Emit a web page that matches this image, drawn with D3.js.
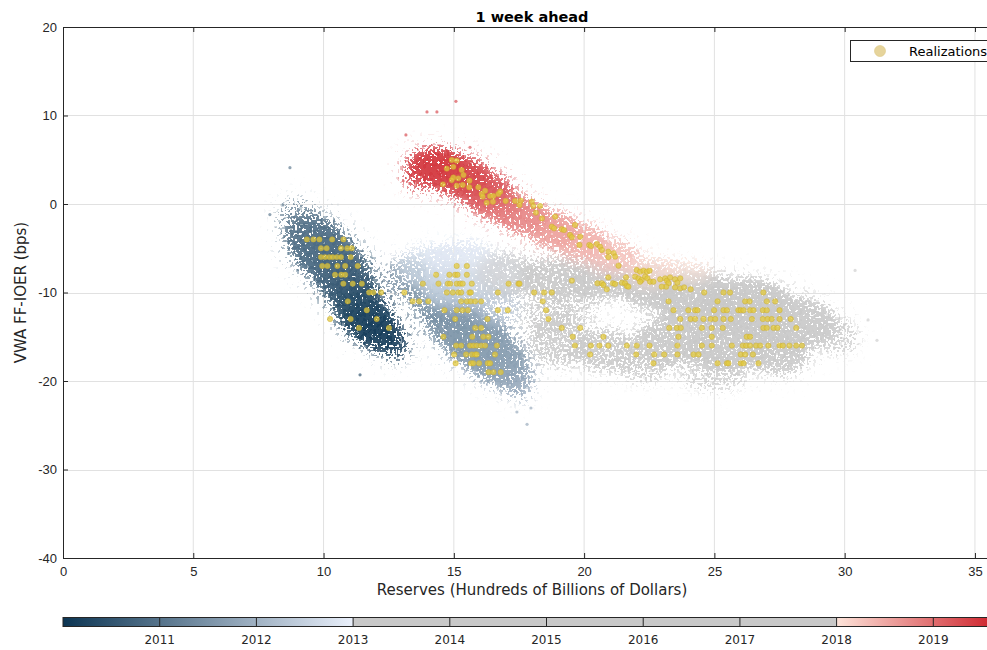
<!DOCTYPE html>
<html>
<head>
<meta charset="utf-8">
<script src="https://cdn.jsdelivr.net/npm/d3@7"></script>
<style>
body { margin: 0; background: #fff; }
svg { font-family: "DejaVu Sans", sans-serif; }
</style>
</head>
<body>
<div id="chart"></div>
<script>
//size
var chart_width = 987;
var chart_height = 650;

//ticks
var xTicks = [0, 5, 10, 15, 20, 25, 30, 35];
var yTicks = [-40, -30, -20, -10, 0, 10, 20];
var cbTicks = [2011, 2012, 2013, 2014, 2015, 2016, 2017, 2018, 2019];

//colormap (date -> colour)
var cmapYears = [2010, 2013, 2013, 2018, 2018, 2019.7];
var cmapColors = ['#0c3553', '#eaf0fb', '#c8c8c8', '#c8c8c8', '#fde4da', '#cc1a24'];

// simulated draws, read as density regions: [date, reserves, bps, spread reserves, spread bps, weight]
var cloud2010 = [
    [2010.90, 9.0, -1.5, 0.8, 2.2, 0.4],
    [2010.88, 9.6, -3.8, 1.1, 2.6, 0.75],
    [2010.82, 10.1, -5.8, 1.2, 2.8, 0.85],
    [2010.72, 10.7, -7.8, 1.1, 2.8, 0.85],
    [2010.55, 11.1, -9.8, 1.0, 2.6, 0.8],
    [2010.30, 11.4, -11.8, 1.0, 2.5, 0.8],
    [2010.15, 11.8, -13.5, 1.0, 2.3, 0.8],
    [2010.05, 12.3, -15.0, 0.9, 2.0, 0.65],
    [2010.00, 12.8, -16.5, 0.6, 1.6, 0.35]
];
var cloud2011 = [
    [2011.15, 13.2, -8.5, 0.9, 2.5, 0.45],
    [2011.30, 14.3, -11.0, 1.0, 2.6, 0.55],
    [2011.45, 15.1, -13.5, 1.2, 2.8, 0.75],
    [2011.55, 15.9, -15.5, 1.3, 2.8, 0.85],
    [2011.65, 16.6, -17.5, 1.2, 2.5, 0.85],
    [2011.75, 17.2, -19.5, 0.9, 2.0, 0.6],
    [2011.80, 17.6, -21.2, 0.5, 1.5, 0.3]
];
var cloud2012 = [
    [2012.80, 14.0, -7.0, 1.2, 2.5, 0.55],
    [2012.85, 15.3, -6.5, 1.3, 2.5, 0.7],
    [2012.90, 16.5, -8.0, 1.2, 2.5, 0.6],
    [2012.60, 15.0, -9.5, 1.3, 2.5, 0.65],
    [2012.30, 16.6, -11.5, 1.0, 2.3, 0.45]
];
var cloudGray = [
    [2015, 17.0, -8.0, 1.2, 2.5, 0.55],
    [2015, 18.8, -8.5, 1.3, 2.5, 0.7],
    [2015, 20.6, -8.8, 1.2, 2.2, 0.75],
    [2015, 22.5, -9.5, 1.2, 2.4, 0.8],
    [2015, 18.5, -12.5, 1.0, 2.2, 0.45],
    [2015, 19.8, -12.0, 0.8, 1.5, 0.4],
    [2015, 19.0, -15.5, 1.2, 3.0, 0.6],
    [2015, 20.8, -16.5, 1.2, 2.6, 0.65],
    [2015, 24.2, -10.5, 1.6, 3.0, 0.85],
    [2015, 26.2, -11.5, 1.8, 3.2, 0.9],
    [2015, 28.2, -13.5, 1.5, 3.0, 0.8],
    [2015, 29.8, -15.0, 0.8, 2.2, 0.45],
    [2015, 23.3, -15.5, 1.4, 2.8, 0.8],
    [2015, 25.5, -16.0, 1.6, 2.8, 0.85],
    [2015, 27.5, -17.0, 1.2, 2.5, 0.7],
    [2015, 25.0, -19.5, 1.3, 1.8, 0.45],
    [2015, 22.3, -18.5, 1.0, 1.8, 0.5]
];
var cloud2018 = [
    [2018.00, 24.0, -7.6, 0.9, 1.4, 0.5],
    [2018.10, 22.6, -7.6, 1.0, 1.7, 0.6],
    [2018.30, 21.1, -5.9, 1.0, 2.0, 0.7],
    [2018.45, 19.9, -4.3, 1.0, 2.1, 0.75],
    [2018.60, 18.8, -2.9, 1.0, 2.1, 0.8],
    [2018.80, 17.6, -1.3, 1.0, 2.1, 0.8],
    [2018.95, 16.6, 0.1, 1.0, 2.0, 0.8]
];
var cloud2019 = [
    [2019.20, 16.1, 1.6, 1.1, 2.0, 0.85],
    [2019.35, 15.2, 3.2, 1.2, 2.2, 0.9],
    [2019.50, 14.3, 4.5, 1.1, 2.0, 0.85],
    [2019.45, 13.7, 3.0, 0.7, 1.8, 0.5]
];
// isolated draws far from the clouds: [date, reserves, bps]
var strays = [
    [2019.5, 13.97, 10.4], [2019.5, 14.35, 10.4], [2019.5, 15.08, 11.6], [2019.5, 13.16, 7.8], [2019.4, 15.62, 6.4],
    [2010.8, 8.71, 4.1], [2010.8, 7.94, -1.2], [2010.8, 8.44, -0.1], [2010.1, 11.40, -19.3],
    [2011.7, 17.81, -24.9], [2011.7, 17.42, -23.5], [2011.7, 17.96, -23.05],
    [2015, 30.40, -7.5], [2015, 31.24, -15.4], [2015, 29.82, -14.2], [2015, 30.9, -13.1]
];

// realizations, 2010-2017 (whole bps): [bps, reserves...]
var realRows = [
    [-4, [9.36, 9.61, 9.84, 10.33, 10.76]],
    [-5, [9.90, 10.12, 10.67, 10.91, 11.08]],
    [-6, [9.90, 10.06, 10.22, 10.35, 10.51, 10.67, 11.04]],
    [-7, [9.95, 10.15, 10.53, 10.83, 11.31, 15.11, 15.50]],
    [-8, [10.44, 10.68, 10.83, 14.32, 14.83, 15.05, 15.14, 15.50]],
    [-9, [10.76, 11.12, 11.47, 13.81, 14.41, 14.77, 14.86, 15.11, 15.24, 15.34, 15.69, 17.10, 17.48, 17.52]],
    [-10, [11.75, 11.91, 12.21, 13.10, 14.73, 14.96, 15.17, 15.28, 15.60, 15.65, 16.69, 18.08, 18.46, 18.76, 24.61, 25.35, 25.60, 26.88]],
    [-11, [10.93, 13.42, 13.67, 14.02, 15.28, 15.50, 15.65, 15.82, 16.05, 18.41, 23.24, 25.12, 26.18, 26.35, 27.01, 27.33]],
    [-12, [11.66, 14.64, 15.11, 15.33, 15.54, 16.69, 17.07, 18.54, 23.43, 24.00, 24.26, 24.35, 24.99, 25.35, 25.48, 25.92, 26.01, 26.12, 26.37, 26.50, 26.86, 27.01, 27.50]],
    [-13, [10.25, 11.04, 12.04, 15.05, 16.29, 18.63, 23.69, 24.09, 24.26, 24.58, 24.86, 25.03, 25.35, 25.63, 26.44, 26.86, 27.04, 27.20, 27.50, 27.93]],
    [-14, [11.36, 12.51, 15.82, 16.05, 19.14, 19.85, 23.27, 23.56, 23.71, 24.52, 24.90, 25.32, 26.88, 27.01, 27.27, 27.42, 28.14]],
    [-15, [14.60, 15.71, 16.13, 16.33, 19.56, 20.74, 23.62, 24.90, 26.24, 26.37]],
    [-16, [15.09, 15.28, 15.62, 15.75, 15.88, 16.05, 16.20, 16.65, 19.65, 20.26, 20.59, 20.93, 21.64, 22.02, 22.51, 23.58, 24.52, 24.90, 25.67, 26.09, 26.22, 26.37, 26.60, 26.76, 27.07, 27.50, 27.63, 27.88, 28.14, 28.36]],
    [-17, [15.01, 15.47, 15.69, 15.82, 15.88, 16.58, 20.23, 22.00, 22.69, 23.07, 23.58, 24.20, 24.39, 26.01, 26.18, 26.48]],
    [-18, [15.07, 15.66, 15.75, 15.97, 16.30, 16.39, 22.66, 25.12, 25.48, 25.54, 26.01, 26.12, 26.69]],
    [-19, [16.33, 16.52, 16.80]]
];
// realizations, 2018-2019: [reserves, bps]
var realLate = [
    [14.92, 4.97], [15.11, 4.9], [14.98, 4.2], [14.73, 4.0], [15.30, 3.84], [15.37, 3.28], [14.98, 3.0], [15.17, 2.9],
    [14.92, 2.71], [15.60, 2.63], [14.58, 2.22], [15.11, 2.07], [15.34, 2.15], [15.59, 1.89], [15.94, 1.89], [16.20, 1.5],
    [16.07, 1.13], [16.11, 0.83], [16.39, 0.9], [16.52, 0.9], [16.71, 1.13], [16.78, 1.39], [16.26, 0.15], [16.50, 0.26],
    [16.99, 0.34], [17.35, 0.34], [17.57, 0.37], [17.52, -0.11], [17.99, 0.26], [18.05, -0.23], [18.31, -0.23], [18.15, -0.98],
    [18.38, -1.62], [18.89, -1.43], [18.76, -2.56], [18.85, -2.75], [19.14, -2.86], [19.23, -2.94], [19.46, -3.5], [19.53, -3.76],
    [19.65, -2.37], [19.85, -3.69], [19.82, -4.63], [20.20, -4.63], [20.26, -4.75], [20.49, -4.52], [20.61, -4.82], [20.68, -5.2],
    [20.93, -5.39], [21.13, -5.57], [21.19, -5.95], [21.32, -6.97], [20.93, -6.0],
    [19.53, -8.66], [20.93, -8.29], [20.51, -8.96], [20.68, -8.96], [20.74, -9.15], [20.87, -9.64], [21.10, -8.96], [21.19, -9.04],
    [21.45, -8.89], [21.57, -8.96], [21.64, -9.27], [21.70, -9.34], [21.61, -8.29], [22.02, -7.46], [22.15, -7.65], [22.28, -7.53],
    [22.41, -7.65], [22.51, -7.53], [21.96, -8.21], [22.09, -8.4], [22.21, -8.59], [22.34, -8.21], [22.43, -8.4], [22.53, -8.78],
    [22.15, -8.78], [22.66, -8.78], [22.92, -8.51], [23.11, -8.4], [23.18, -8.66], [23.24, -8.96], [23.15, -9.34], [23.30, -8.29],
    [23.49, -8.51], [23.58, -8.89], [23.69, -8.4], [22.98, -9.34], [23.49, -9.42], [23.69, -9.53], [23.84, -9.42], [24.09, -9.64]
];

//scales
var x = d3.scaleLinear().domain([0, 36]).range([63, 1001]);
var y = d3.scaleLinear().domain([-40, 20]).range([558, 27]);
var cb = d3.scaleLinear().domain([2010, 2019.7]).range([63, 1001]);
var color = d3.scaleLinear().domain(cmapYears).range(cmapColors).clamp(true);

//svg
var svg = d3.select('#chart')
            .append('svg')
            .attr('width', chart_width)
            .attr('height', chart_height);

var defs = svg.append('defs');

// grainy look for the clouds: blurred shape thresholded against noise
function makeSpeckle(id, blur, freq, seed){
    var f = defs.append('filter')
        .attr('id', id)
        .attr('filterUnits', 'userSpaceOnUse')
        .attr('x', 63).attr('y', 27).attr('width', 938).attr('height', 531)
        .attr('color-interpolation-filters', 'sRGB');
    f.append('feGaussianBlur').attr('in', 'SourceGraphic').attr('stdDeviation', blur).attr('result', 'blur');
    f.append('feTurbulence').attr('type', 'fractalNoise').attr('baseFrequency', freq)
        .attr('numOctaves', 1).attr('seed', seed).attr('result', 'noise');
    f.append('feColorMatrix').attr('in', 'noise').attr('type', 'matrix')
        .attr('values', '0 0 0 0 0  0 0 0 0 0  0 0 0 0 0  2.6 0 0 0 -0.8').attr('result', 'na');
    f.append('feComposite').attr('in', 'blur').attr('in2', 'na').attr('operator', 'arithmetic')
        .attr('k1', 0).attr('k2', 1).attr('k3', -1).attr('k4', 0.5).attr('result', 'diff');
    f.append('feComponentTransfer').attr('in', 'diff').attr('result', 'mask')
        .append('feFuncA').attr('type', 'discrete').attr('tableValues', '0 1');
    f.append('feComposite').attr('in', 'blur').attr('in2', 'mask').attr('operator', 'in').attr('result', 'dots');
    f.append('feComponentTransfer').attr('in', 'dots')
        .append('feFuncA').attr('type', 'table').attr('tableValues', '0 0.55 0.75 0.88 0.95');
}
makeSpeckle('speckle', 6, 0.42, 4);
makeSpeckle('halo', 8, 0.3, 9);

//grid
svg.append('g')
   .selectAll('line')
   .data(xTicks.filter(function(d){ return d > 0; }))
   .enter()
   .append('line')
   .attr('x1', function(d){ return x(d); })
   .attr('x2', function(d){ return x(d); })
   .attr('y1', y(20)).attr('y2', y(-40))
   .attr('stroke', '#e1e1e1').attr('stroke-width', 1);
svg.append('g')
   .selectAll('line')
   .data(yTicks.filter(function(d){ return d > -40 && d < 20; }))
   .enter()
   .append('line')
   .attr('x1', x(0)).attr('x2', x(36))
   .attr('y1', function(d){ return Math.round(y(d)) + 0.5; })
   .attr('y2', function(d){ return Math.round(y(d)) + 0.5; })
   .attr('stroke', '#e1e1e1').attr('stroke-width', 1);

//clouds: a faint halo under a denser core
var clouds = cloud2010.concat(cloud2011, cloud2012, cloudGray, cloud2018, cloud2019);
function drawCloud(filterId, grow, fade){
    svg.append('g')
       .attr('filter', 'url(#' + filterId + ')')
       .selectAll('ellipse')
       .data(clouds)
       .enter()
       .append('ellipse')
       .attr('cx', function(d){ return x(d[1]); })
       .attr('cy', function(d){ return y(d[2]); })
       .attr('rx', function(d){ return (x(d[3]) - x(0)) * grow; })
       .attr('ry', function(d){ return (y(0) - y(d[4])) * grow; })
       .attr('fill', function(d){ return color(d[0]); })
       .attr('fill-opacity', function(d){ return d[5] * fade; });
}
drawCloud('halo', 1.4, 0.2);
drawCloud('speckle', 1, 1);

svg.append('g')
   .selectAll('circle')
   .data(strays)
   .enter()
   .append('circle')
   .attr('cx', function(d){ return x(d[1]); })
   .attr('cy', function(d){ return y(d[2]); })
   .attr('r', 1.6)
   .attr('fill', function(d){ return color(d[0]); })
   .attr('fill-opacity', 0.6);

//realizations
var real = [];
realRows.forEach(function(row){
    row[1].forEach(function(v){ real.push([v, row[0]]); });
});
real = real.concat(realLate);

svg.append('g')
   .selectAll('circle')
   .data(real)
   .enter()
   .append('circle')
   .attr('cx', function(d){ return x(d[0]); })
   .attr('cy', function(d){ return y(d[1]); })
   .attr('r', 2.7)
   .attr('fill', '#e2ca3e')
   .attr('fill-opacity', 0.75)
   .attr('stroke', '#c9a92a')
   .attr('stroke-opacity', 0.7)
   .attr('stroke-width', 0.6);

//axes
function styleAxis(g){
    g.selectAll('path').attr('stroke', '#262626');
    g.selectAll('line').attr('stroke', '#262626');
    g.selectAll('text').attr('fill', '#262626').style('font-size', '13px');
}
var fmt = function(d){ return String(d); };

svg.append('g')
   .attr('transform', 'translate(0,' + y(-40) + ')')
   .call(d3.axisBottom(x).tickValues(xTicks).tickSize(-5).tickSizeOuter(0).tickPadding(9).tickFormat(fmt))
   .call(styleAxis);
svg.append('g')
   .attr('transform', 'translate(0,' + y(20) + ')')
   .call(d3.axisTop(x).tickValues(xTicks).tickSize(-5).tickSizeOuter(0).tickFormat(''))
   .call(styleAxis);
svg.append('g')
   .attr('transform', 'translate(' + x(0) + ',0)')
   .call(d3.axisLeft(y).tickValues(yTicks).tickSize(-5).tickSizeOuter(0).tickPadding(6).tickFormat(fmt))
   .call(styleAxis);

//labels
svg.append('text')
   .attr('x', x(18)).attr('y', 22)
   .attr('text-anchor', 'middle')
   .style('font-size', '14.5px').style('font-weight', 'bold')
   .attr('fill', '#000')
   .text('1 week ahead');
svg.append('text')
   .attr('x', x(18)).attr('y', 595)
   .attr('text-anchor', 'middle')
   .style('font-size', '15px')
   .attr('fill', '#262626')
   .text('Reserves (Hundreds of Billions of Dollars)');
svg.append('text')
   .attr('transform', 'translate(26,' + y(-10) + ') rotate(-90)')
   .attr('text-anchor', 'middle')
   .style('font-size', '15px')
   .attr('fill', '#262626')
   .text('VWA FF-IOER (bps)');

//legend
svg.append('rect')
   .attr('x', 850.5).attr('y', 40.5).attr('width', 160).attr('height', 21)
   .attr('fill', '#fff').attr('stroke', '#262626').attr('stroke-width', 1);
svg.append('circle')
   .attr('cx', 880).attr('cy', 51).attr('r', 5.5)
   .attr('fill', '#e6d49b').attr('stroke', '#dcc784').attr('stroke-width', 0.6);
svg.append('text')
   .attr('x', 909).attr('y', 55.5)
   .style('font-size', '13px')
   .attr('fill', '#000')
   .text('Realizations');

//colorbar
var grad = defs.append('linearGradient')
    .attr('id', 'cbgrad')
    .attr('gradientUnits', 'userSpaceOnUse')
    .attr('x1', cb(2010)).attr('x2', cb(2019.7)).attr('y1', 0).attr('y2', 0);
grad.selectAll('stop')
    .data(cmapYears)
    .enter()
    .append('stop')
    .attr('offset', function(d){ return (d - 2010) / 9.7; })
    .attr('stop-color', function(d, i){ return cmapColors[i]; });

svg.append('rect')
   .attr('x', cb(2010)).attr('y', 617.5)
   .attr('width', cb(2019.7) - cb(2010)).attr('height', 9)
   .attr('fill', 'url(#cbgrad)')
   .attr('stroke', '#262626').attr('stroke-width', 1);
svg.append('g')
   .selectAll('line')
   .data(cbTicks)
   .enter()
   .append('line')
   .attr('x1', function(d){ return cb(d); })
   .attr('x2', function(d){ return cb(d); })
   .attr('y1', 617.5).attr('y2', 626.5)
   .attr('stroke', '#262626').attr('stroke-width', 1);
svg.append('g')
   .selectAll('text')
   .data(cbTicks)
   .enter()
   .append('text')
   .attr('x', function(d){ return cb(d); })
   .attr('y', 644)
   .attr('text-anchor', 'middle')
   .style('font-size', '12px')
   .attr('fill', '#262626')
   .text(function(d){ return d; });
</script>
</body>
</html>
